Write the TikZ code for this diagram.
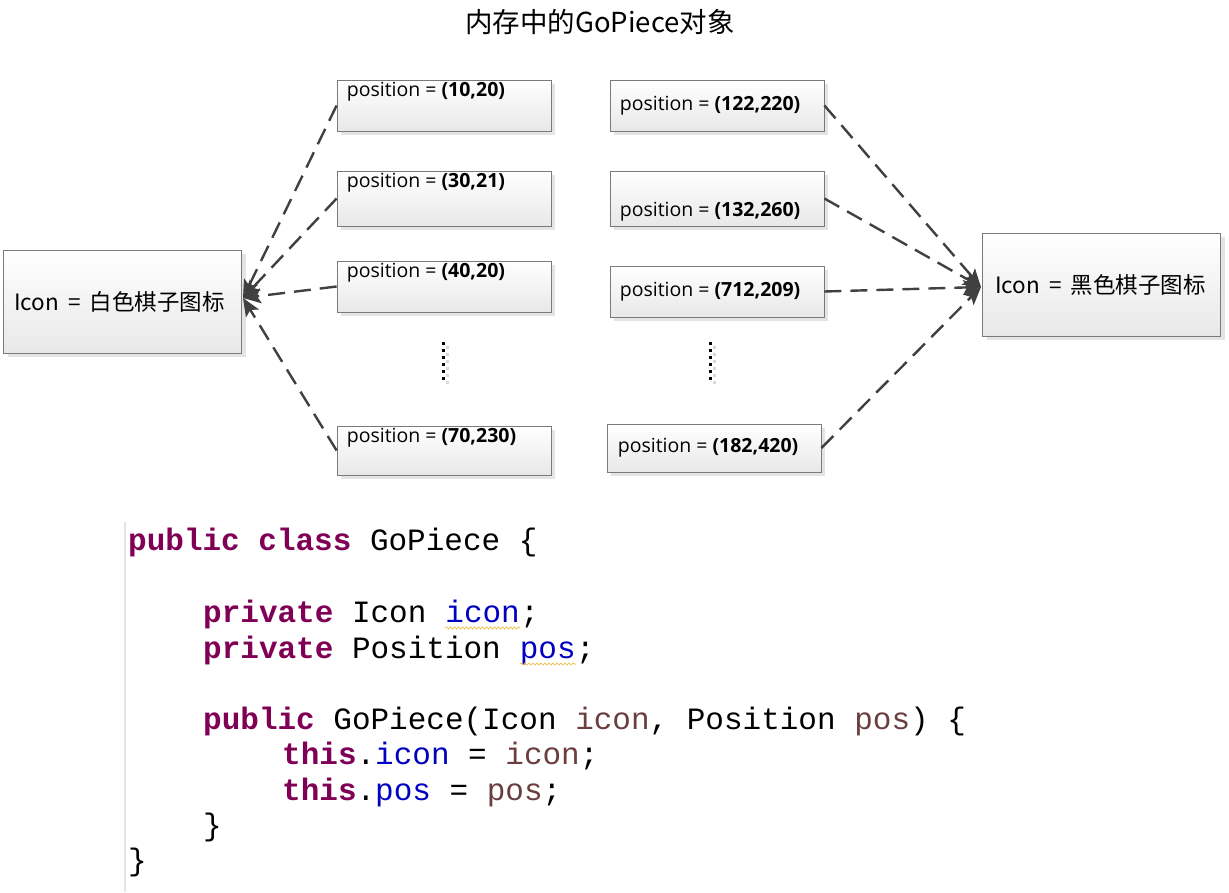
\documentclass[tikz,border=0pt]{standalone}
\usepackage{fontspec}
\setmainfont{Open Sans}
\newfontfamily\cjk{Noto Sans CJK SC}
\newfontfamily\codefont{Liberation Mono}
\usepackage{tikz}
\usetikzlibrary{positioning, arrows.meta, shadows, decorations.pathmorphing}

\definecolor{kwcol}{HTML}{7F0055}
\definecolor{fldcol}{HTML}{0000C0}
\definecolor{prmcol}{HTML}{6A3E3E}
\definecolor{arrcol}{HTML}{404040}
\definecolor{edgecol}{HTML}{7A7A7A}
\definecolor{warncol}{HTML}{E8B830}

\newcommand{\kw}[1]{\textcolor{kwcol}{\bfseries #1}}

\tikzset{
  objbox/.style={rectangle, draw=edgecol, line width=0.8pt, top color=white, bottom color=black!9,
    drop shadow={shadow xshift=4pt, shadow yshift=-4pt, opacity=0.3, fill=black!35}, inner sep=0pt},
  posbox/.style={objbox, minimum width=214pt, minimum height=51pt},
  iconbox/.style={objbox, minimum width=238pt, minimum height=103pt},
  postext/.style={inner sep=1pt, font=\fontsize{19.5}{23}\selectfont},
  icontext/.style={inner sep=0pt, anchor=west, font=\cjk\fontsize{22.5}{26}\selectfont},
  refline/.style={draw=arrcol, line width=2.4pt, dash pattern=on 17pt off 9pt,
    -{Stealth[length=18pt, width=15pt, inset=4pt]}},
  vdots/.style={draw=black, line width=3pt, dash pattern=on 3pt off 4pt},
  code/.style={anchor=base west, inner sep=0pt, font=\codefont\fontsize{31}{36}\selectfont},
  warnline/.style={draw=warncol, line width=0.6pt, decorate,
    decoration={snake, amplitude=1.2pt, segment length=4pt}}
}

\begin{document}
\begin{tikzpicture}[x=1pt, y=-1pt]
  \useasboundingbox (0,0) rectangle (1229,892);

  % title
  \node[font=\cjk\fontsize{27.5}{32}\selectfont] (title) at (600,22) {内存中的GoPiece对象};

  % the two shared icon objects
  \node[iconbox] (white) at (122.5,301.5) {};
  \node[icontext] (white-t) at ([xshift=11pt]white.west) {Icon\hspace{0.4em}=\hspace{0.4em}白色棋子图标};
  \node[iconbox] (black) at (1101.5,284.5) {};
  \node[icontext] (black-t) at ([xshift=13pt]black.west) {Icon\hspace{0.4em}=\hspace{0.4em}黑色棋子图标};

  % white pieces
  \node[posbox] (w1) at (444,105.5) {};
  \node[postext, anchor=north west] (w1-t) at ([shift={(9pt,-1pt)}]w1.north west) {position = \textbf{(10,20)}};
  \node[posbox, minimum height=55pt] (w2) at (444,198.5) {};
  \node[postext, anchor=north west] (w2-t) at ([shift={(9pt,-1pt)}]w2.north west) {position = \textbf{(30,21)}};
  \node[posbox] (w3) at (444,286.5) {};
  \node[postext, anchor=north west] (w3-t) at ([shift={(9pt,-1pt)}]w3.north west) {position = \textbf{(40,20)}};
  \node[posbox, minimum height=49pt] (w4) at (444,450.5) {};
  \node[postext, anchor=north west] (w4-t) at ([shift={(9pt,-1pt)}]w4.north west) {position = \textbf{(70,230)}};

  % black pieces
  \node[posbox] (b1) at (717,105.5) {};
  \node[postext, anchor=west] (b1-t) at ([xshift=9pt]b1.west) {position = \textbf{(122,220)}};
  \node[posbox, minimum height=55pt] (b2) at (717,198.5) {};
  \node[postext, anchor=west] (b2-t) at ([shift={(9pt,-13pt)}]b2.west) {position = \textbf{(132,260)}};
  \node[posbox] (b3) at (717,291.5) {};
  \node[postext, anchor=west] (b3-t) at ([xshift=9pt]b3.west) {position = \textbf{(712,209)}};
  \node[posbox, minimum height=48pt] (b4) at (714,448) {};
  \node[postext, anchor=west] (b4-t) at ([xshift=10pt]b4.west) {position = \textbf{(182,420)}};

  \coordinate (w-dots) at (443,342);
  \coordinate (b-dots) at (710,342);
  \draw[vdots, draw=black!15] ([shift={(4pt,-4pt)}]w-dots) -- ++(0,39);
  \draw[vdots, draw=black!15] ([shift={(4pt,-4pt)}]b-dots) -- ++(0,39);
  \draw[vdots] (w-dots) -- ++(0,39);
  \draw[vdots] (b-dots) -- ++(0,39);

  % references
  \coordinate (white-in) at (243,298);
  \coordinate (black-in) at (981,287);
  \foreach \p in {w1,w2,w3,w4}
    \draw[refline] (\p.west) -- (white-in);
  \foreach \p in {b1,b2,b3,b4}
    \draw[refline] (\p.east) -- (black-in);

  % source code
  \draw[black!10, line width=1.5pt] (125,522) -- (125,892);
  \node[code] (c1) at (128,550) {\kw{public class} GoPiece \{};
  \node[code] (c3) at (203,622) {\kw{private} Icon};
  \node[code] (c3-f) at ([xshift=18.6pt]c3.base east) {\textcolor{fldcol}{icon}};
  \node[code] (c3-e) at (c3-f.base east) {;};
  \node[code] (c4) at (203,658) {\kw{private} Position};
  \node[code] (c4-f) at ([xshift=18.6pt]c4.base east) {\textcolor{fldcol}{pos}};
  \node[code] (c4-e) at (c4-f.base east) {;};
  \node[code] (c6) at (203,729) {\kw{public} GoPiece(Icon \textcolor{prmcol}{icon}, Position \textcolor{prmcol}{pos}) \{};
  \node[code] (c7) at (282,764) {\kw{this}.\textcolor{fldcol}{icon} = \textcolor{prmcol}{icon};};
  \node[code] (c8) at (282,800) {\kw{this}.\textcolor{fldcol}{pos} = \textcolor{prmcol}{pos};};
  \node[code] (c9) at (203,835) {\}};
  \node[code] (c10) at (128,870) {\}};
  \draw[warnline] ([yshift=-6pt]c3-f.base west) -- ([yshift=-6pt]c3-f.base east);
  \draw[warnline] ([yshift=-6pt]c4-f.base west) -- ([yshift=-6pt]c4-f.base east);
\end{tikzpicture}
\end{document}
